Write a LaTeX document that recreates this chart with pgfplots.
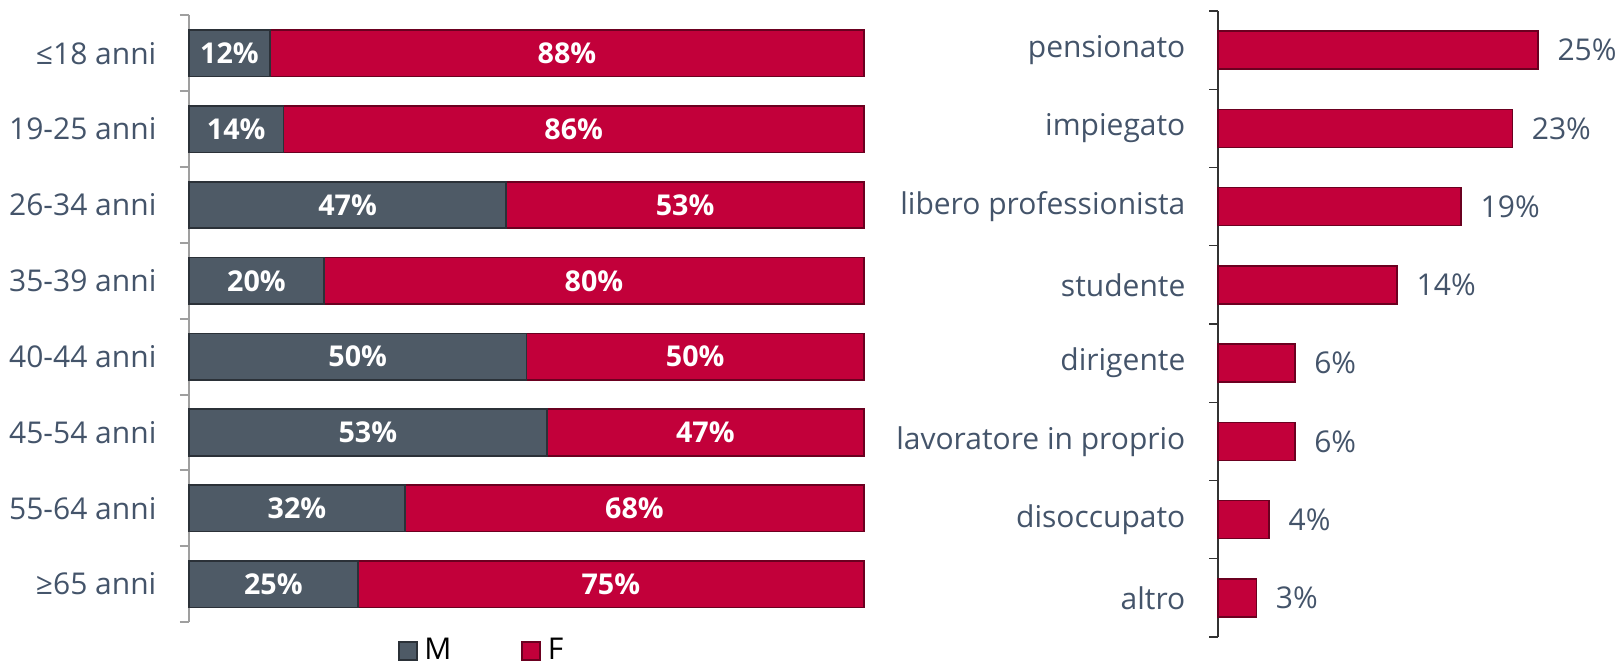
\documentclass[border=0pt]{standalone}
\usepackage{fontspec}
\setmainfont{Open Sans}
\usepackage{pgfplots}
\usepackage{pgfplotstable}
\pgfplotsset{compat=1.18}

\definecolor{cM}{RGB}{78,90,102}
\definecolor{cF}{RGB}{194,0,58}
\definecolor{lab}{RGB}{68,84,106}

% eta: quota M / F (%)
\pgfplotstableread{
idx m f
0 12 88
1 14 86
2 47 53
3 20 80
4 50 50
5 53 47
6 32 68
7 25 75
}\agedata

% professione (%)
\pgfplotstableread{
idx v
0 25
1 23
2 19
3 14
4 6
5 6
6 4
7 3
}\jobdata

\pgfplotsset{
  barM/.style={draw=cM!55!black, line width=0.5pt, fill=cM},
  barF/.style={draw=cF!55!black, line width=0.5pt, fill=cF},
  catlab/.style={font=\fontsize{9}{11}\selectfont, text=lab, inner sep=0pt, xshift=-9.6pt},
  /pgf/number format/assume math mode=true,
}

\begin{document}
\begin{tikzpicture}
% ---- left: eta
\begin{axis}[
  at={(56.7pt,12.6pt)}, anchor=south west,
  scale only axis, width=202.5pt, height=182pt,
  xbar stacked, bar width=13.95pt,
  xmin=0, xmax=100, ymin=-0.5, ymax=7.5, y dir=reverse,
  axis x line=none, axis y line*=left,
  y axis line style={draw=gray!75, line width=0.6pt},
  ytick={0,...,7},
  yticklabels={≤18 anni,19-25 anni,26-34 anni,35-39 anni,40-44 anni,45-54 anni,55-64 anni,≥65 anni},
  minor ytick={-0.5,0.5,...,7.5},
  tick align=outside, major tick length=0pt, minor tick length=2.7pt,
  minor tick style={draw=gray!75, line width=0.6pt},
  yticklabel style={catlab},
  legend columns=2,
  legend style={at={(0.437,-0.048)}, anchor=center, draw=none, inner sep=0pt,
    font=\fontsize{9}{11}\selectfont, /tikz/every even column/.append style={column sep=19pt}},
  legend image code/.code={\fill[#1] (0pt,-2.7pt) rectangle (5.4pt,2.7pt);},
  clip=false,
]
\addplot[barM] table[x=m, y=idx] {\agedata};
\addplot[barF] table[x=f, y=idx] {\agedata};
\legend{M,F}
\end{axis}
% ---- left: etichette dei valori
\begin{axis}[
  at={(56.7pt,12.6pt)}, anchor=south west,
  scale only axis, width=202.5pt, height=182pt,
  xmin=0, xmax=100, ymin=-0.5, ymax=7.5, y dir=reverse,
  hide axis, clip=false,
  nodes near coords={\pgfmathprintnumber[fixed,precision=0]{\pgfplotspointmeta}\%},
  nodes near coords style={anchor=center, text=white, inner sep=0pt,
    font=\bfseries\fontsize{8.6}{10}\selectfont},
]
\addplot[draw=none, mark=none, point meta=\thisrow{m}]
  table[x expr=\thisrow{m}/2, y=idx] {\agedata};
\addplot[draw=none, mark=none, point meta=\thisrow{f}]
  table[x expr=\thisrow{m}+\thisrow{f}/2, y=idx] {\agedata};
\end{axis}
% ---- right: professione
\begin{axis}[
  at={(365.4pt,8.1pt)}, anchor=south west,
  scale only axis, width=115.2pt, height=187.8pt,
  xbar, bar width=11.4pt,
  xmin=0, xmax=30, ymin=-0.5, ymax=7.5, y dir=reverse,
  axis x line=none, axis y line*=left,
  y axis line style={draw=black!80, line width=0.4pt},
  ytick={0,...,7},
  yticklabels={pensionato,impiegato,libero professionista,studente,dirigente,lavoratore in proprio,disoccupato,altro},
  minor ytick={-0.5,0.5,...,7.5},
  tick align=outside, major tick length=0pt, minor tick length=2.7pt,
  minor tick style={draw=black!80, line width=0.4pt},
  yticklabel style={catlab},
  nodes near coords={\pgfmathprintnumber{\pgfplotspointmeta}\%},
  nodes near coords style={anchor=west, text=lab, inner sep=0pt, xshift=5.6pt,
    font=\fontsize{9}{11}\selectfont},
  clip=false,
]
\addplot[barF] table[x=v, y=idx] {\jobdata};
\end{axis}
\pgfresetboundingbox
\path[use as bounding box] (0,0) rectangle (485.1pt,199.2pt);
\end{tikzpicture}
\end{document}
